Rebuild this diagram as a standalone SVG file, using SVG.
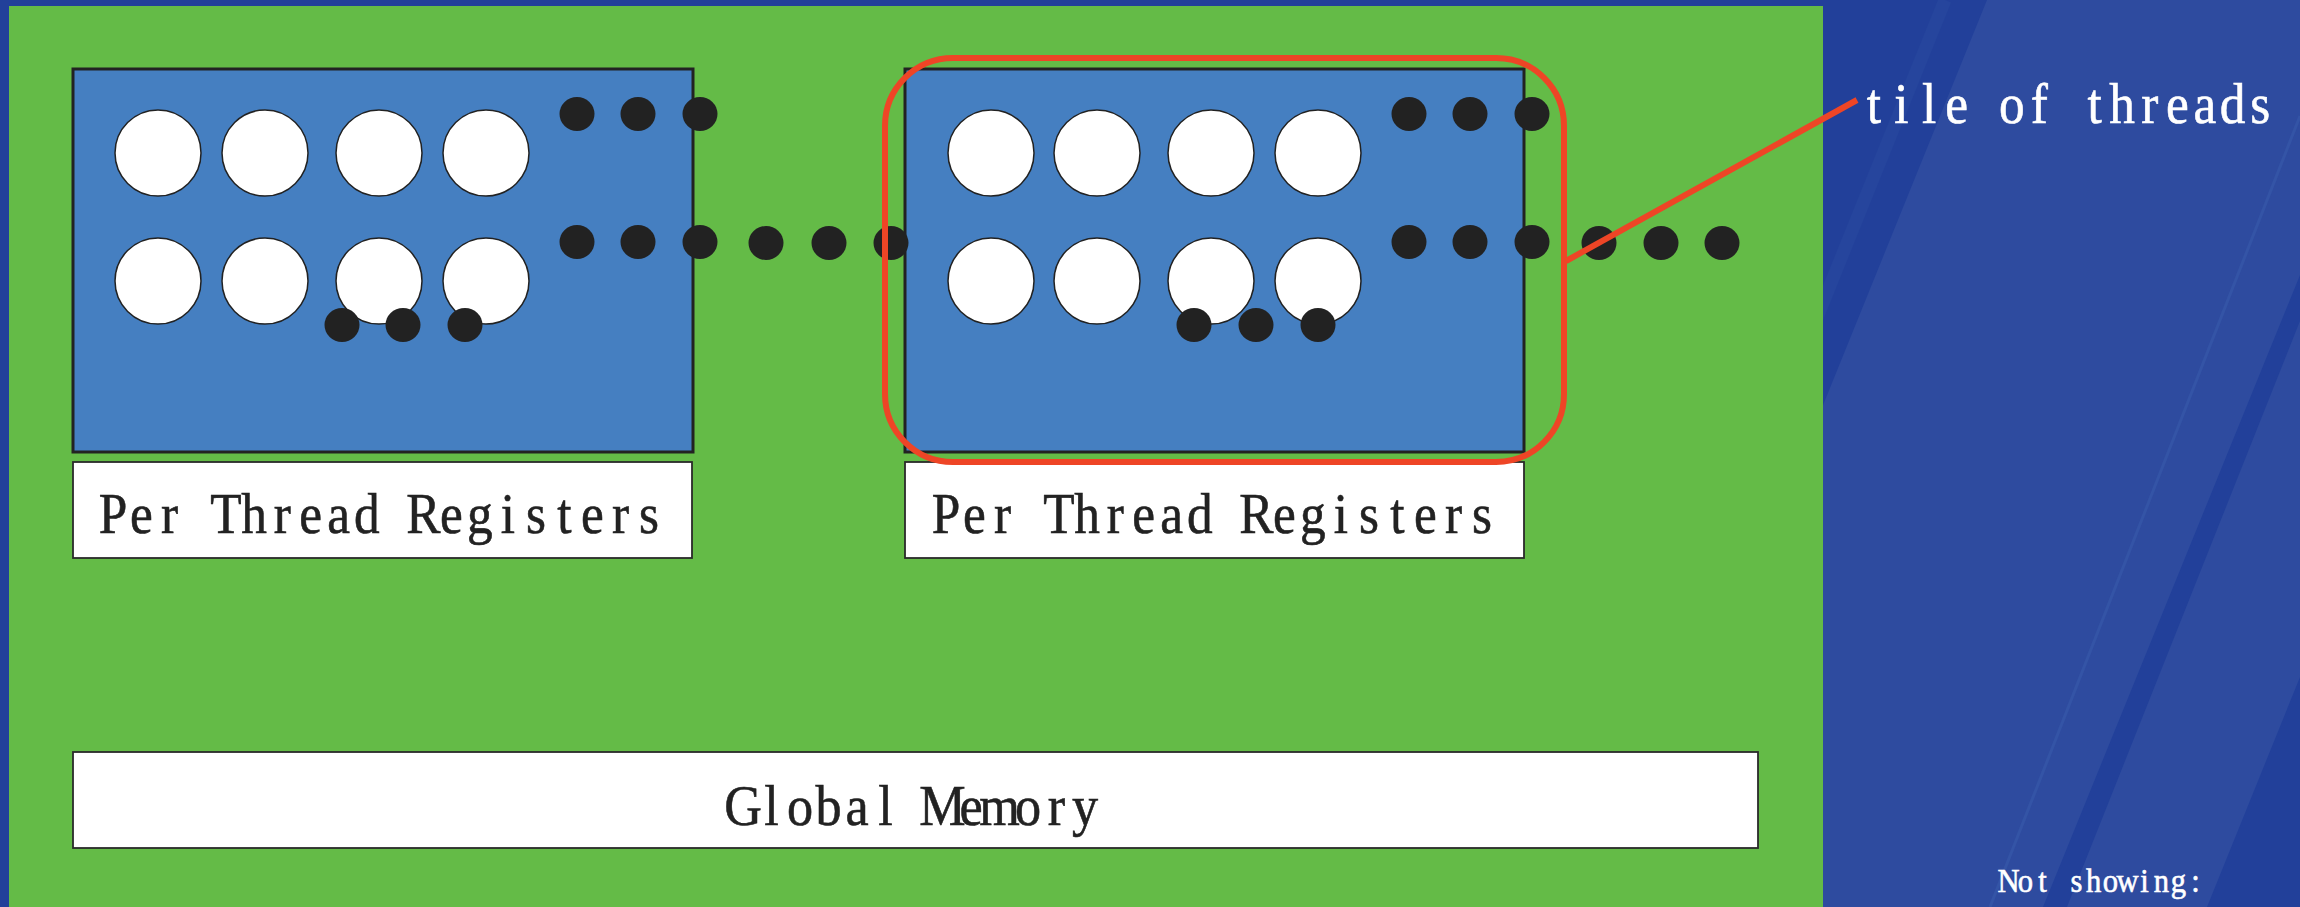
<svg xmlns="http://www.w3.org/2000/svg" width="2300" height="907" viewBox="0 0 2300 907">
  <style>
    .tile { fill: #457fc1; stroke: #222; stroke-width: 3; }
    .thread { fill: #fff; stroke: #222; stroke-width: 1.5; }
    .dot { fill: #222; }
    .label-box { fill: #fff; stroke: #2a2a2a; stroke-width: 1.8; }
    .mono { font-family: "Liberation Serif", "Times New Roman", serif; text-anchor: middle; stroke-width: 0.6; }
    .dark { fill: #222; stroke: #222; }
    .light { fill: #fff; stroke: #fff; }
    .callout { fill: none; stroke: #ee4526; stroke-width: 6; stroke-linecap: butt; }
  </style>

  <!-- slide background with diagonal bands -->
  <g id="background">
    <rect x="0" y="0" width="2300" height="907" fill="#22409a"/>
    <polygon points="1987,0 2300,0 2300,275 2043,907 1620,907" fill="#2e4b9f"/>
    <polygon points="2300,321 2300,677 2207,907 2067,907" fill="#2e4b9f"/>
    <line x1="1945" y1="0" x2="1800" y2="360" stroke="#26459d" stroke-width="13"/>
    <line x1="2300" y1="116" x2="1990" y2="907" stroke="#3454a6" stroke-width="3"/>
  </g>

  <!-- device panel -->
  <rect id="device" x="9" y="6" width="1814" height="910" fill="#64bb47"/>

  <!-- left tile of threads -->
  <g id="tile-left">
    <rect class="tile" x="73" y="69" width="620" height="383"/>
    <circle class="thread" cx="158" cy="153" r="43"/>
    <circle class="thread" cx="265" cy="153" r="43"/>
    <circle class="thread" cx="379" cy="153" r="43"/>
    <circle class="thread" cx="486" cy="153" r="43"/>
    <circle class="thread" cx="158" cy="281" r="43"/>
    <circle class="thread" cx="265" cy="281" r="43"/>
    <circle class="thread" cx="379" cy="281" r="43"/>
    <circle class="thread" cx="486" cy="281" r="43"/>
    <ellipse class="dot" cx="577" cy="114" rx="17.5" ry="17"/>
    <ellipse class="dot" cx="638" cy="114" rx="17.5" ry="17"/>
    <ellipse class="dot" cx="700" cy="114" rx="17.5" ry="17"/>
    <ellipse class="dot" cx="577" cy="242" rx="17.5" ry="17"/>
    <ellipse class="dot" cx="638" cy="242" rx="17.5" ry="17"/>
    <ellipse class="dot" cx="700" cy="242" rx="17.5" ry="17"/>
    <ellipse class="dot" cx="342" cy="325" rx="17.5" ry="17"/>
    <ellipse class="dot" cx="403" cy="325" rx="17.5" ry="17"/>
    <ellipse class="dot" cx="465" cy="325" rx="17.5" ry="17"/>
  </g>

  <!-- dots between the tiles -->
  <g id="tile-gap">
    <ellipse class="dot" cx="766" cy="243" rx="17.5" ry="17"/>
    <ellipse class="dot" cx="829" cy="243" rx="17.5" ry="17"/>
  </g>

  <!-- right tile of threads -->
  <g id="tile-right">
    <rect class="tile" x="905" y="69" width="619" height="383"/>
    <circle class="thread" cx="991" cy="153" r="43"/>
    <circle class="thread" cx="1097" cy="153" r="43"/>
    <circle class="thread" cx="1211" cy="153" r="43"/>
    <circle class="thread" cx="1318" cy="153" r="43"/>
    <circle class="thread" cx="991" cy="281" r="43"/>
    <circle class="thread" cx="1097" cy="281" r="43"/>
    <circle class="thread" cx="1211" cy="281" r="43"/>
    <circle class="thread" cx="1318" cy="281" r="43"/>
    <ellipse class="dot" cx="1409" cy="114" rx="17.5" ry="17"/>
    <ellipse class="dot" cx="1470" cy="114" rx="17.5" ry="17"/>
    <ellipse class="dot" cx="1532" cy="114" rx="17.5" ry="17"/>
    <ellipse class="dot" cx="1409" cy="242" rx="17.5" ry="17"/>
    <ellipse class="dot" cx="1470" cy="242" rx="17.5" ry="17"/>
    <ellipse class="dot" cx="1532" cy="242" rx="17.5" ry="17"/>
    <ellipse class="dot" cx="1194" cy="325" rx="17.5" ry="17"/>
    <ellipse class="dot" cx="1256" cy="325" rx="17.5" ry="17"/>
    <ellipse class="dot" cx="1318" cy="325" rx="17.5" ry="17"/>
  </g>

  <g id="tile-more">
    <ellipse class="dot" cx="891" cy="243" rx="17.5" ry="17"/>
    <ellipse class="dot" cx="1599" cy="243" rx="17.5" ry="17"/>
    <ellipse class="dot" cx="1661" cy="243" rx="17.5" ry="17"/>
    <ellipse class="dot" cx="1722" cy="243" rx="17.5" ry="17"/>
  </g>

  <!-- register labels -->
  <g id="regs-left">
    <rect class="label-box" x="73" y="462" width="619" height="96"/>
    <text class="mono dark" font-size="57" transform="translate(381 533) scale(0.9 1)" y="0"
      x="-297.7 -266.3 -235 -203.7 -172.3 -141 -109.7 -78.3 -47 -15.7 15.7 47 78.3 109.7 141 172.3 203.7 235 266.3 297.7">Per Thread Registers</text>
  </g>
  <g id="regs-right">
    <rect class="label-box" x="905" y="462" width="619" height="96"/>
    <text class="mono dark" font-size="57" transform="translate(1214 533) scale(0.9 1)" y="0"
      x="-297.7 -266.3 -235 -203.7 -172.3 -141 -109.7 -78.3 -47 -15.7 15.7 47 78.3 109.7 141 172.3 203.7 235 266.3 297.7">Per Thread Registers</text>
  </g>

  <!-- global memory -->
  <g id="global-memory">
    <rect class="label-box" x="73" y="752" width="1685" height="96" stroke-width="2.2"/>
    <text class="mono dark" font-size="58" transform="translate(914 825) scale(0.9 1)" y="0"
      x="-190 -158.3 -126.7 -95 -63.3 -31.7 0 31.7 63.3 95 126.7 158.3 190">Global Memory</text>
  </g>

  <!-- highlight around one tile and its callout -->
  <g id="connectors">
    <rect class="callout" x="885" y="58" width="679" height="404" rx="68" ry="68"/>
    <line class="callout" x1="1566" y1="261" x2="1857" y2="100" stroke-width="5"/>
  </g>

  <g id="callout-label">
    <text class="mono light" font-size="57" transform="translate(2067 123) scale(0.9 1)" y="0"
      x="-214.7 -184 -153.3 -122.7 -92 -61.3 -30.7 0 30.7 61.3 92 122.7 153.3 184 214.7">tile of threads</text>
  </g>

  <g id="note">
    <text class="mono light" font-size="34" transform="translate(2102 892) scale(0.9 1)" y="0"
      x="-103.9 -85 -66.1 -47.2 -28.3 -9.4 9.4 28.3 47.2 66.1 85 103.9">Not showing:</text>
  </g>
</svg>
